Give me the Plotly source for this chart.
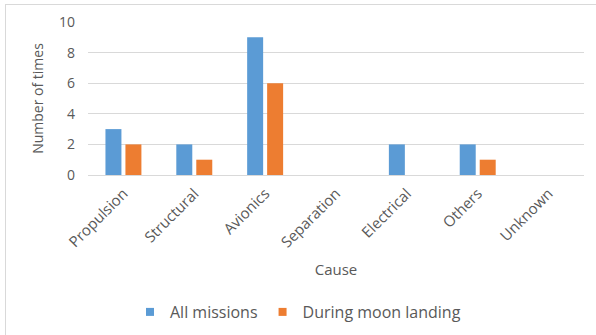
import plotly.graph_objects as go

categories = ["Propulsion", "Structural", "Avionics", "Separation", "Electrical", "Others", "Unknown"]
all_missions = [3, 2, 9, 0, 2, 2, 0]
moon_landing = [2, 1, 6, 0, 0, 1, 0]
y_ticks = [0, 2, 4, 6, 8, 10]
series_names = ["All missions", "During moon landing"]
series_colors = ["#5B9BD5", "#ED7D31"]

W, H = 596, 335
L, R, T, B = 88, 12, 22, 160
pw, ph = W - L - R, H - T - B

txt = "#595959"
font = "Open Sans, Segoe UI, sans-serif"

fig = go.Figure()
for name, vals, col in zip(series_names, [all_missions, moon_landing], series_colors):
    fig.add_trace(go.Bar(x=categories, y=vals, name=name, showlegend=False,
                         marker=dict(color=col, line=dict(width=0))))
for name, col in zip(series_names, series_colors):
    fig.add_trace(go.Scatter(x=[None], y=[None], mode="markers", name=name,
                             marker=dict(symbol="square", size=8, color=col)))

def px_x(x):
    return (x - L) / pw

def px_y(y):
    return (H - B - y) / ph

fig.update_layout(
    width=W, height=H,
    margin=dict(l=L, r=R, t=T, b=B, autoexpand=False),
    paper_bgcolor="white", plot_bgcolor="white",
    barmode="group", bargap=0.436, bargroupgap=0.2,
    font=dict(family=font, color=txt, size=14),
    showlegend=True,
    legend=dict(orientation="h", x=0.5, xanchor="center", xref="container",
                y=1 - 312 / H, yanchor="middle", yref="container",
                font=dict(size=16, color=txt), itemwidth=30,
                traceorder="normal"),
    xaxis=dict(
        tickangle=-45, showgrid=False, showline=False, zeroline=False,
        ticks="", tickfont=dict(size=15, color=txt), ticklabelstandoff=6,
        title=dict(text="Cause", font=dict(size=15, color=txt), standoff=14),
    ),
    yaxis=dict(
        range=[0, 10], tickvals=y_ticks, showgrid=True, gridcolor="#D9D9D9",
        gridwidth=1, zeroline=True, zerolinecolor="#D9D9D9", zerolinewidth=1,
        showline=False, ticks="", ticklabelstandoff=12,
        tickfont=dict(size=14, color=txt),
        title=dict(text="Number of times", font=dict(size=14, color=txt), standoff=12),
    ),
    shapes=[
        dict(type="line", xref="paper", yref="paper",
             x0=px_x(5.5), x1=px_x(5.5), y0=px_y(4), y1=px_y(335),
             line=dict(color="#D9D9D9", width=1)),
        dict(type="line", xref="paper", yref="paper",
             x0=px_x(5.5), x1=px_x(596), y0=px_y(4.5), y1=px_y(4.5),
             line=dict(color="#D9D9D9", width=1)),
    ],
)

fig.write_html("out.html")
